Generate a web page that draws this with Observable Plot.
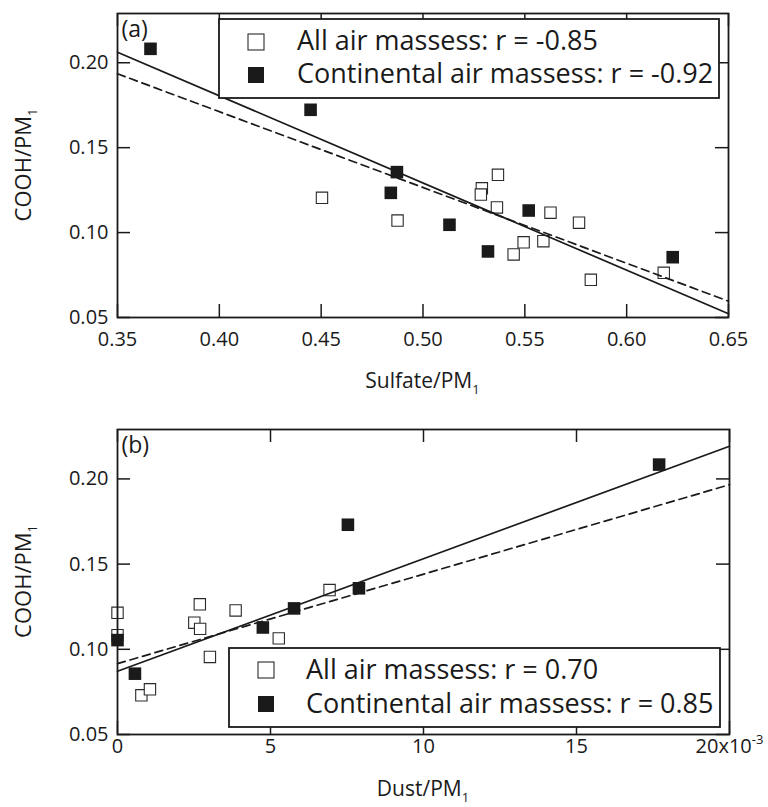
<!DOCTYPE html>
<html>
<head>
<meta charset="utf-8">
<script src="https://cdn.jsdelivr.net/npm/d3@7"></script>
<script src="https://cdn.jsdelivr.net/npm/@observablehq/plot@0.6"></script>
<style>
  body { margin: 0; background: #fff; }
  #chart { width: 768px; height: 807px; position: relative; background: #fff; }
  #chart svg { display: block; }
</style>
</head>
<body>
<div id="chart"></div>
<script>
// ---------- Panel (a): COOH/PM1 vs Sulfate/PM1 ----------
const sulfateAll  = [0.4504, 0.4875, 0.5289, 0.5284, 0.5368, 0.5363, 0.5626, 0.5766, 0.5494, 0.5591, 0.5445, 0.5824, 0.6182];
const coohAllA    = [0.1205, 0.1071, 0.1261, 0.1224, 0.1340, 0.1148, 0.1117, 0.1058, 0.0943, 0.0949, 0.0871, 0.0722, 0.0763];
const sulfateCont = [0.3662, 0.4448, 0.4872, 0.4842, 0.5130, 0.5319, 0.5519, 0.6226];
const coohContA   = [0.2082, 0.1723, 0.1356, 0.1234, 0.1046, 0.0889, 0.1130, 0.0855];
// fitted lines (end points)
const sulfateFitX     = [0.35, 0.65];
const sulfateFitAllY  = [0.1935, 0.0596];   // dashed
const sulfateFitContY = [0.2062, 0.0522];   // solid

// ---------- Panel (b): COOH/PM1 vs Dust/PM1 ----------
const dustAll   = [0.0000, 0.0000, 0.00269, 0.00251, 0.00270, 0.00386, 0.00527, 0.00302, 0.00693, 0.00078, 0.00106];
const coohAllB  = [0.1214, 0.1083, 0.1264, 0.1156, 0.1120, 0.1228, 0.1064, 0.0955, 0.1348, 0.0730, 0.0765];
const dustCont  = [0.0000, 0.00057, 0.00475, 0.00577, 0.00753, 0.00789, 0.01770];
const coohContB = [0.1054, 0.0857, 0.1128, 0.1240, 0.1731, 0.1358, 0.2084];
const dustFitX     = [0, 0.02];
const dustFitAllY  = [0.0916, 0.1966];  // dashed
const dustFitContY = [0.0871, 0.2192];  // solid

// ---------- axes ----------
const coohDomain = [0.05, 0.229];
const coohTicks = [0.05, 0.10, 0.15, 0.20];
const coohTickLabels = ["0.05", "0.10", "0.15", "0.20"];
const sulfateTicks = [0.35, 0.40, 0.45, 0.50, 0.55, 0.60, 0.65];
const sulfateTickLabels = ["0.35", "0.40", "0.45", "0.50", "0.55", "0.60", "0.65"];
const dustTicks = [0, 0.005, 0.010, 0.015, 0.020];
const dustTickLabels = ["0", "5", "10", "15", "20x10"];
const dustExponent = "-3";

// ---------- legend texts ----------
const legendA = ["All air massess: r = -0.85", "Continental air massess: r = -0.92"];
const legendB = ["All air massess: r = 0.70", "Continental air massess: r = 0.85"];

const INK = "#1a1a1a";
const FONT = "'Open Sans', 'DejaVu Sans', sans-serif";
const W = 768;

function zip(xs, ys) { return xs.map((x, i) => ({x, y: ys[i]})); }

function makePanel(cfg) {
  const {height, ml, mr, mt, mb, xDomain, xTicks, xLabels, xPad, yPad,
         openX, openY, fillX, fillY, fitX, fitAllY, fitContY, tag, xTitle, xTitleY, legend, leg} = cfg;
  const pw = W - ml - mr, ph = height - mt - mb, tl = 13;
  const xl = new Map(xTicks.map((t, i) => [t, xLabels[i]]));
  const yl = new Map(coohTicks.map((t, i) => [t, coohTickLabels[i]]));
  const tickStyle = {stroke: INK, strokeWidth: 1.5};
  const plot = Plot.plot({
    width: W, height,
    marginLeft: ml, marginRight: mr, marginTop: mt, marginBottom: mb,
    x: {domain: xDomain, label: null},
    y: {domain: coohDomain, label: null},
    style: {fontFamily: FONT, fontSize: "20px", color: INK, background: "white", overflow: "visible"},
    marks: [
      Plot.ruleX(xTicks, {...tickStyle, insetTop: ph - tl}),
      Plot.ruleX(xTicks, {...tickStyle, insetBottom: ph - tl}),
      Plot.ruleY(coohTicks, {...tickStyle, insetRight: pw - tl}),
      Plot.ruleY(coohTicks, {...tickStyle, insetLeft: pw - tl}),
      Plot.axisX(xTicks, {anchor: "bottom", tickSize: 0, tickPadding: xPad, tickFormat: d => xl.get(d), label: null}),
      Plot.axisY(coohTicks, {anchor: "left", tickSize: 0, tickPadding: yPad, tickFormat: d => yl.get(d), label: null}),
      Plot.dot(zip(openX, openY), {x: "x", y: "y", symbol: "square", r: 6.4, fill: "white", stroke: "#2a2a2a", strokeWidth: 1.1}),
      Plot.line(zip(fitX, fitAllY), {x: "x", y: "y", stroke: INK, strokeWidth: 1.7, strokeDasharray: "8,5"}),
      Plot.line(zip(fitX, fitContY), {x: "x", y: "y", stroke: INK, strokeWidth: 1.7}),
      Plot.dot(zip(fillX, fillY), {x: "x", y: "y", symbol: "square", r: 7.1, fill: INK, stroke: "none"}),
      Plot.text([tag], {frameAnchor: "top-left", dx: 4, dy: 7, textAnchor: "start", lineAnchor: "top", fontSize: 23, fill: INK}),
      Plot.frame({stroke: INK, strokeWidth: 1.8})
    ]
  });
  const svg = d3.select(plot);
  // x title with subscript
  const xt = svg.append("text").attr("x", ml + pw / 2).attr("y", xTitleY)
    .attr("text-anchor", "middle").attr("font-size", 21).attr("fill", INK).attr("font-family", FONT);
  xt.append("tspan").attr("fill", INK).text(xTitle);
  xt.append("tspan").attr("fill", INK).attr("dy", 6).attr("font-size", 13).text("1");
  // y title with subscript
  const yt = svg.append("text").attr("transform", `translate(31,${mt + ph / 2}) rotate(-90)`)
    .attr("text-anchor", "middle").attr("font-size", 22).attr("fill", INK).attr("font-family", FONT);
  yt.append("tspan").attr("fill", INK).text("COOH/PM");
  yt.append("tspan").attr("fill", INK).attr("dy", 6).attr("font-size", 13).text("1");
  // legend box
  const g = svg.append("g").attr("text-anchor", "start");
  g.append("rect").attr("x", leg.x0).attr("y", leg.y0).attr("width", leg.x1 - leg.x0).attr("height", leg.y1 - leg.y0)
    .attr("fill", "white").attr("stroke", INK).attr("stroke-width", 1.8);
  const ms = 16;
  leg.rows.forEach((r, i) => {
    g.append("rect").attr("x", leg.mx - ms / 2).attr("y", r.my - ms / 2).attr("width", ms).attr("height", ms)
      .attr("fill", i === 0 ? "white" : INK).attr("stroke", i === 0 ? "#2a2a2a" : "none").attr("stroke-width", 1.1);
    g.append("text").attr("x", leg.tx).attr("y", r.base).attr("text-anchor", "start").attr("font-size", 27).attr("fill", INK)
      .attr("font-family", FONT).text(legend[i]);
  });
  return plot;
}

const chart = document.getElementById("chart");

const plotA = makePanel({
  height: 400, ml: 117, mr: 40, mt: 13, mb: 83,
  xDomain: [0.35, 0.65], xTicks: sulfateTicks, xLabels: sulfateTickLabels, xPad: 14, yPad: 9,
  openX: sulfateAll, openY: coohAllA, fillX: sulfateCont, fillY: coohContA,
  fitX: sulfateFitX, fitAllY: sulfateFitAllY, fitContY: sulfateFitContY,
  tag: "(a)", xTitle: "Sulfate/PM", xTitleY: 388, legend: legendA,
  leg: {x0: 219, y0: 19, x1: 719, y1: 98, mx: 256, tx: 297, rows: [{my: 42, base: 49.5}, {my: 75, base: 83}]}
});
chart.appendChild(plotA);

const plotB = makePanel({
  height: 407, ml: 117, mr: 39, mt: 29, mb: 73,
  xDomain: [0, 0.02], xTicks: dustTicks, xLabels: dustTickLabels, xPad: 4, yPad: 9,
  openX: dustAll, openY: coohAllB, fillX: dustCont, fillY: coohContB,
  fitX: dustFitX, fitAllY: dustFitAllY, fitContY: dustFitContY,
  tag: "(b)", xTitle: "Dust/PM", xTitleY: 396, legend: legendB,
  leg: {x0: 229, y0: 248, x1: 720, y1: 327, mx: 266, tx: 306, rows: [{my: 270, base: 279}, {my: 304, base: 313}]}
});
chart.appendChild(plotB);

// superscript exponent on the last dust tick label
d3.select(plotB).selectAll("text").each(function () {
  if (this.textContent === dustTickLabels[dustTickLabels.length - 1]) {
    d3.select(this).append("tspan").attr("dy", -9).attr("font-size", 13).text(dustExponent);
  }
});
</script>
</body>
</html>
